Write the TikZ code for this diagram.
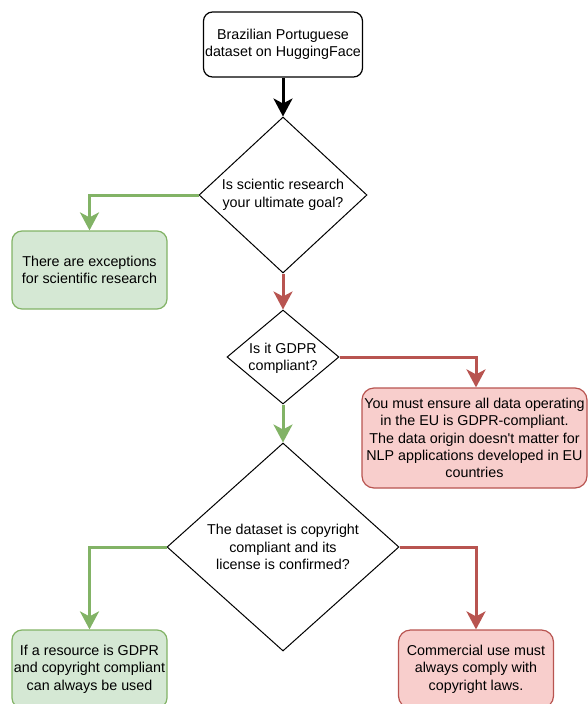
\documentclass[tikz,border=0pt]{standalone}
\usepackage{fontspec}
\setmainfont{Liberation Sans}[Ligatures=TeXOff]
\usetikzlibrary{shapes.geometric,arrows.meta}
\definecolor{gstroke}{HTML}{82B366}
\definecolor{gfill}{HTML}{D5E8D4}
\definecolor{rstroke}{HTML}{B85450}
\definecolor{rfill}{HTML}{F8CECC}
\begin{document}
\begin{tikzpicture}[x=1pt,y=-1pt,
  every node/.style={font=\fontsize{14.3}{17.4}\selectfont},
  startbox/.style={draw=black,line width=1.2pt,rounded corners=9pt,fill=white,align=center,inner sep=0pt},
  greenbox/.style={draw=gstroke,fill=gfill,line width=1.2pt,rounded corners=10pt,align=center,inner sep=0pt},
  redbox/.style={draw=rstroke,fill=rfill,line width=1.2pt,rounded corners=12pt,align=center,inner sep=0pt},
  dia/.style={diamond,draw=black,line width=1pt,inner sep=0pt},
  dtext/.style={align=center,inner sep=0pt},
  flow/.style={line width=3pt,-{Stealth[length=18pt,width=19pt,inset=5pt]}},
  yesflow/.style={flow,draw=gstroke},
  noflow/.style={flow,draw=rstroke},
  startflow/.style={flow,draw=black}
]
\useasboundingbox (0,0) rectangle (587,704);

\node[startbox,minimum width=159pt,minimum height=65pt] (start) at (283,44.5) {Brazilian Portuguese\\dataset on HuggingFace};

\node[dia,minimum width=168pt,minimum height=156pt] (d1) at (283,195) {};
\node[dtext] (d1t) at (283,195) {Is scientic research\\your ultimate goal?};

\node[greenbox,minimum width=155pt,minimum height=78pt] (g1) at (89.5,270) {There are exceptions\\for scientific research};

\node[dia,minimum width=112pt,minimum height=94pt] (d2) at (283,357) {};
\node[dtext] (d2t) at (283,358) {Is it GDPR\\compliant?};

\node[redbox,minimum width=225pt,minimum height=100pt] (r1) at (474.5,438) {You must ensure all data operating\\in the EU is GDPR-compliant.\\The data origin doesn't matter for\\NLP applications developed in EU\\countries};

\node[dia,minimum width=232pt,minimum height=208pt] (d3) at (283,547) {};
\node[dtext] (d3t) at (283,547) {The dataset is copyright\\compliant and its\\license is confirmed?};

\node[greenbox,minimum width=155pt,minimum height=78pt] (g2) at (89.5,669) {If a resource is GDPR\\and copyright compliant\\can always be used};

\node[redbox,minimum width=155pt,minimum height=78pt] (r2) at (476,669) {Commercial use must\\always comply with\\copyright laws.};

\draw[startflow] (start.south) -- (d1.north);
\draw[yesflow] (d1.west) -| (g1.north);
\draw[noflow] (d1.south) -- (d2.north);
\draw[noflow] (d2.east) -| ([xshift=1.5pt]r1.north);
\draw[yesflow] (d2.south) -- (d3.north);
\draw[yesflow] (d3.west) -| (g2.north);
\draw[noflow] (d3.east) -| (r2.north);
\end{tikzpicture}
\end{document}
